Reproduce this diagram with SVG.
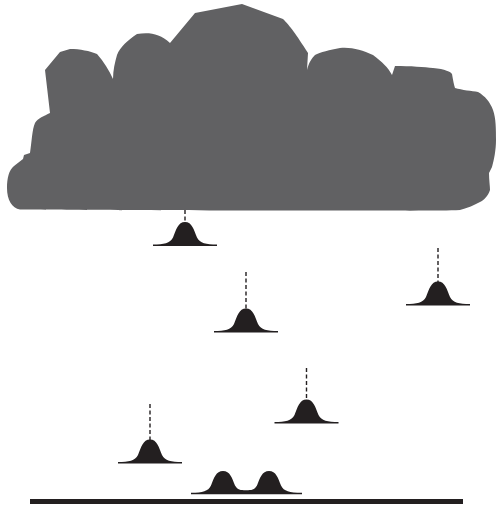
<svg xmlns="http://www.w3.org/2000/svg" width="496" height="508" viewBox="0 0 496 508">
  <defs>
    <style>
      .cloud { fill: #616163; }
      .drop { fill: #231f20; }
      .trail { stroke: #231f20; stroke-width: 1.4; stroke-dasharray: 4 2.5; fill: none; }
      .ground { stroke: #231f20; stroke-width: 5; }
    </style>
    <!-- bell-shaped raindrop, peak at origin, base at y=23 -->
    <path id="bell" d="M -32,22.6 C -21,22.3 -15,21.5 -12,15.5 C -9,8 -7,0 0,0 C 7,0 9,8 12,15.5 C 15,21.5 21,22.3 32,22.6 L 32,24 L -32,24 Z"/>
  </defs>

  <rect width="496" height="508" fill="#ffffff"/>

  <!-- storm cloud -->
  <g id="cloud">
    <path class="cloud" d="M 20,209.5 C 12,208 7,200 7,188 C 7,178 9,170 14,166 L 23,159 L 24,155 L 30,153 C 32,140 32,130 35,123 C 38,118 44,116 50,113 L 45,70 L 60,52 L 70,49 C 80,49 90,51 97,54 C 104,62 109,70 113,79 C 113,70 115,62 117,55 C 120,47 128,40 137,34 C 148,32 160,33 170,43 L 195,13 L 242,4 L 283,19 C 290,26 296,34 308,53 L 307,70 C 309,62 312,58 315,55 C 320,52 330,50 340,48 C 352,47 362,50 373,55 C 382,62 388,67 392,75 L 395,66 C 410,66 425,67 433,68 C 445,69 451,72 452,74 C 453,80 454,85 455,88 C 462,90 472,91 478,92 C 485,96 490,102 493,110 C 496,118 496,130 496,140 C 496,150 494,160 492,167 L 489,173 C 489,180 490,186 490,190 C 488,196 484,200 480,202 C 474,205 468,208 460,210 C 440,211 400,210.5 300,210.5 C 200,210.5 60,210 20,209.5 Z"/>
  </g>

  <!-- falling drops with their trails -->
  <g id="connectors">
    <line class="trail" x1="185" y1="210" x2="185" y2="223"/>
    <line class="trail" x1="246" y1="272" x2="246" y2="309"/>
    <line class="trail" x1="438" y1="248" x2="438" y2="282"/>
    <line class="trail" x1="306.5" y1="368" x2="306.5" y2="400"/>
    <line class="trail" x1="150" y1="404" x2="150" y2="440"/>
  </g>

  <g id="drop1"><use href="#bell" class="drop" transform="translate(185,222)"/></g>
  <g id="drop2"><use href="#bell" class="drop" transform="translate(246,308.5)"/></g>
  <g id="drop3"><use href="#bell" class="drop" transform="translate(438,281.5)"/></g>
  <g id="drop4"><use href="#bell" class="drop" transform="translate(306.5,399.5)"/></g>
  <g id="drop5"><use href="#bell" class="drop" transform="translate(150,439.5)"/></g>

  <!-- two drops merging on the ground -->
  <g id="splash">
    <path class="drop" d="M 191,492.8 C 203,492.5 208,491.5 211,485.5 C 214,478 216,471 223,471 C 230,471 232,478 235,485.5 C 238,490 240,490.2 246,490.2 C 252,490.2 254,490 257,485.5 C 260,478 262,471 269,471 C 276,471 278,478 281,485.5 C 284,491.5 289,492.5 302,492.8 L 302,494.2 L 191,494.2 Z"/>
  </g>

  <g id="ground">
    <line class="ground" x1="30" y1="501.5" x2="463" y2="501.5"/>
  </g>
</svg>
